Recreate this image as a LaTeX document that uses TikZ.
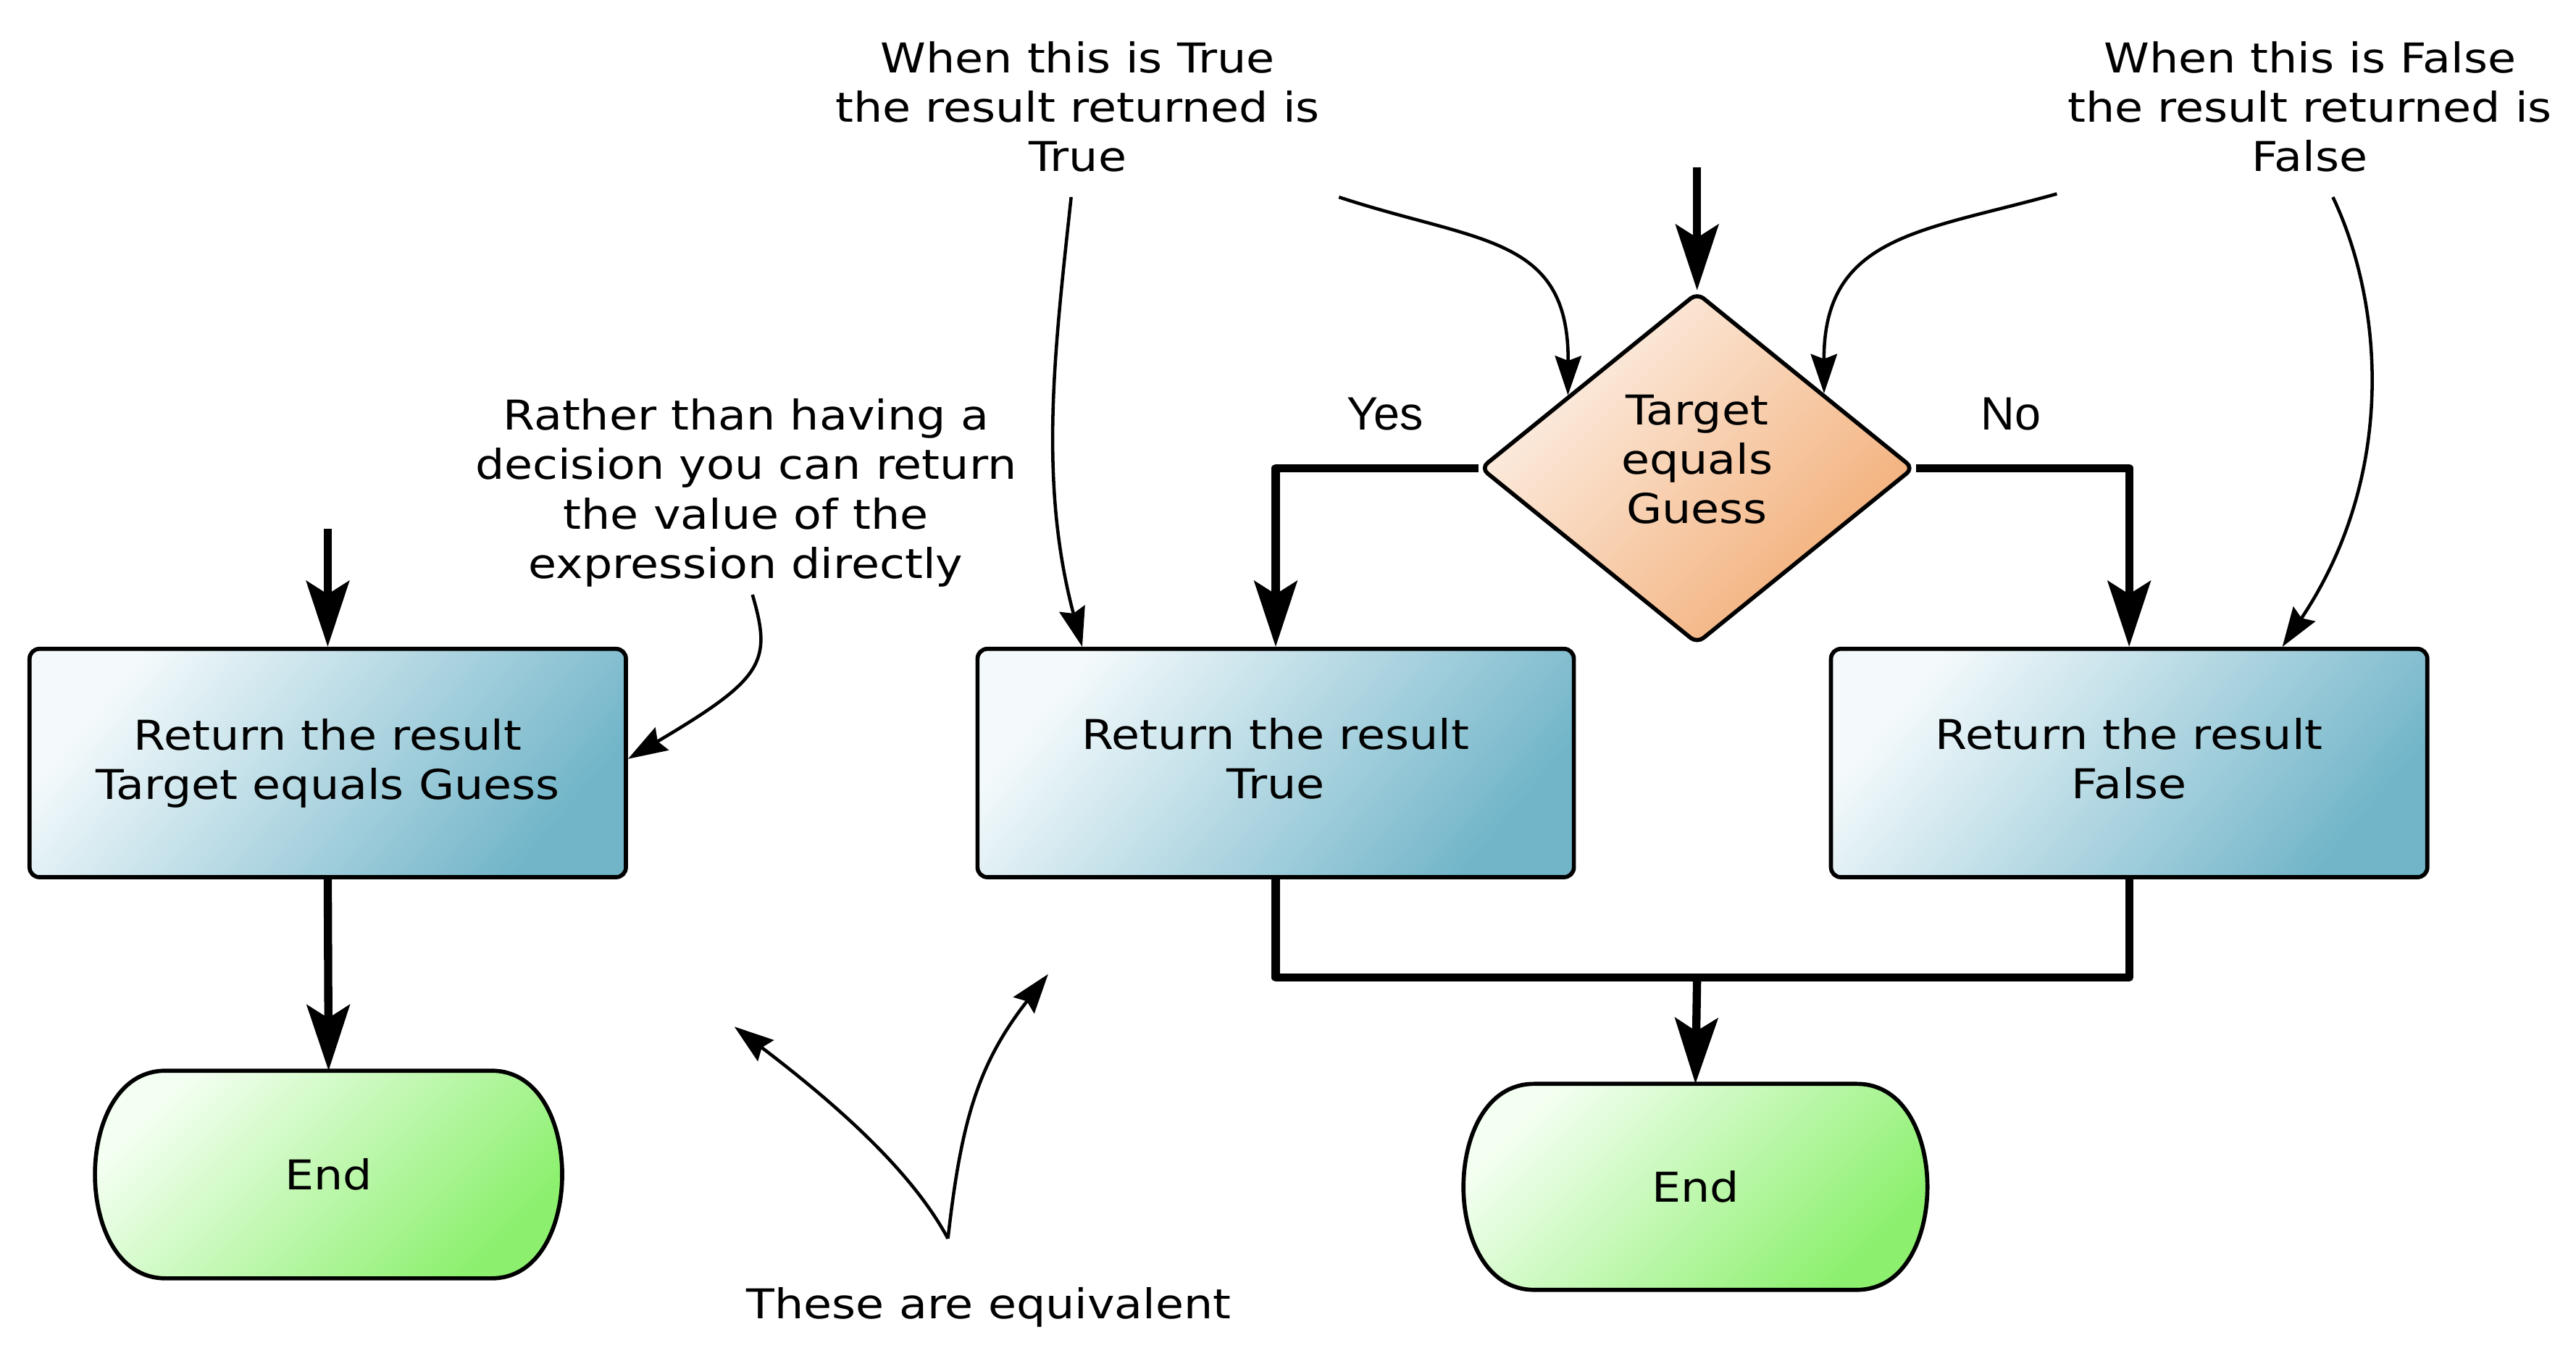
\documentclass[tikz,border=0pt]{standalone}
\usepackage{fontspec}
\setmainfont{DejaVu Sans}[FakeStretch=1.12]
\newfontfamily\labelfont{Liberation Sans}
\usetikzlibrary{arrows.meta,shapes.geometric,calc,backgrounds}
\definecolor{boxA}{HTML}{F4FAFC}
\definecolor{boxB}{HTML}{72B5C9}
\definecolor{decA}{HTML}{FDF1E8}
\definecolor{decB}{HTML}{F2AC74}
\definecolor{endA}{HTML}{F3FFF1}
\definecolor{endB}{HTML}{8CF06E}
\begin{document}
\begin{tikzpicture}[x=1pt,y=1pt,
  font=\fontsize{25}{30}\selectfont,
  proc/.style={draw, line width=2.5pt, rounded corners=6pt, minimum width=363pt,
    minimum height=139pt, top color=boxA, bottom color=boxB, shading angle=50,
    align=center, inner sep=0pt},
  dec/.style={diamond, draw, line width=2.5pt, rounded corners=5pt, minimum width=264pt,
    minimum height=214pt, inner sep=0pt, top color=decA, bottom color=decB,
    shading angle=45, align=center},
  term/.style={minimum width=284pt, minimum height=126pt, inner sep=0pt},
  termfill/.style={draw, line width=2.5pt, top color=endA, bottom color=endB, shading angle=45},
  flow/.style={line width=5pt, line join=round, -{Stealth[length=40pt,width=26pt,inset=8pt]}},
  flowline/.style={line width=5pt, line join=round},
  note/.style={line width=2pt, -{Stealth[length=24pt,width=16pt,inset=3pt]}},
  ann/.style={align=center, inner sep=0pt},
  lbl/.style={font=\labelfont\fontsize{28.5}{30}\selectfont, inner sep=0pt}]
\useasboundingbox (0,0) rectangle (1568,833);

% nodes
\node[proc] (box1) at (199.5,368.5) {Return the result\\Target equals Guess};
\node[proc] (box2) at (776.5,368.5) {Return the result\\True\rule[-6pt]{0pt}{6pt}};
\node[proc] (box3) at (1296,368.5) {Return the result\\False\rule[-6pt]{0pt}{6pt}};
\node[dec] (dia) at (1033,548) {Target\\equals\\Guess\rule[-11pt]{0pt}{11pt}};
\node[term] (end1) at (200,118) {End};
\node[term, minimum width=282pt, minimum height=125pt] (end2) at (1032,110.5) {End};

\begin{scope}[on background layer]
\path[termfill] ([xshift=43pt]end1.north west) -- ([xshift=-43pt]end1.north east)
  to[out=0,in=90] (end1.east) to[out=-90,in=0] ([xshift=-43pt]end1.south east)
  -- ([xshift=43pt]end1.south west) to[out=180,in=-90] (end1.west)
  to[out=90,in=180] cycle;
\path[termfill] ([xshift=43pt]end2.north west) -- ([xshift=-43pt]end2.north east)
  to[out=0,in=90] (end2.east) to[out=-90,in=0] ([xshift=-43pt]end2.south east)
  -- ([xshift=43pt]end2.south west) to[out=180,in=-90] (end2.west)
  to[out=90,in=180] cycle;
\end{scope}

\node[lbl] (yes) at (843,581) {Yes};
\node[lbl] (no) at (1224,581) {No};

\node[ann] (t1) at (656,768) {When this is True\\the result returned is\\True};
\node[ann] (t2) at (1406,768) {When this is False\\the result returned is\\False};
\node[ann] (t3) at (454,533) {Rather than having a\\decision you can return\\the value of the\\expression directly};
\node[ann] (t4) at (602,37) {These are equivalent};

% flow connectors
\coordinate (s1) at (199.5,511);
\coordinate (s2) at (1033,731);
\coordinate (m) at (1033,238);
\draw[flow] (s1) -- (box1.north);
\draw[flow] (s2) -- (dia.north);
\draw[flow] (box1.south) -- (end1.north);
\draw[flow] (dia.west) -| (box2.north);
\draw[flow] (dia.east) -| (box3.north);
\draw[flowline] (box2.south) |- (m) -| (box3.south);
\draw[flow] (m) -- (end2.north);

% annotation arrows
\coordinate (c1s) at (652,713);
\coordinate (c2s) at (815,713);
\coordinate (c3s) at (1252,715);
\coordinate (c4s) at (1420,713);
\coordinate (c5s) at (458,471);
\coordinate (v) at (577,79);
\coordinate (e6) at (447,208);
\coordinate (e7) at (638,240);
\draw[note] (c1s) .. controls (642,620) and (632,540) .. ($(box2.north west)+(65,0)$);
\draw[note] (c2s) .. controls (900,685) and (955,690) .. ($(dia.north)!0.59!(dia.west)$);
\draw[note] (c3s) .. controls (1170,692) and (1110,690) .. ($(dia.north)!0.58!(dia.east)$);
\draw[note] (c4s) .. controls (1450,650) and (1460,545) .. ($(box3.north west)+(276,0)$);
\draw[note] (c5s) .. controls (470,430) and (465,420) .. ([yshift=2.5pt]box1.east);
\draw[note] (v) .. controls (555,120) and (510,160) .. (e6);
\draw[note] (v) .. controls (585,150) and (595,185) .. (e7);
\end{tikzpicture}
\end{document}
